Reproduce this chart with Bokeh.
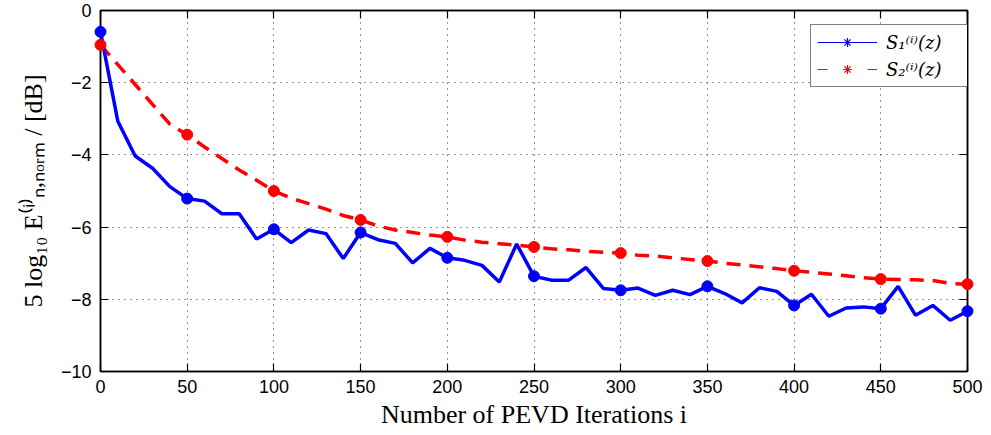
from bokeh.plotting import figure
from bokeh.models import (ColumnDataSource, Legend, LegendItem, LinearAxis,
                          FixedTicker, CustomJSTickFormatter, Range1d)
from bokeh.embed import file_html
from bokeh.resources import INLINE

# ---- data ----
iterations = list(range(0, 501, 10))
s1_db = [-0.59, -3.07, -4.03, -4.37, -4.88, -5.21, -5.28, -5.63, -5.63, -6.33,
         -6.06, -6.43, -6.08, -6.18, -6.87, -6.15, -6.35, -6.45, -6.99, -6.59,
         -6.85, -6.92, -7.06, -7.52, -6.47, -7.36, -7.47, -7.47, -7.12, -7.70,
         -7.75, -7.69, -7.89, -7.75, -7.87, -7.64, -7.84, -8.10, -7.68, -7.78,
         -8.17, -7.86, -8.47, -8.24, -8.21, -8.26, -7.64, -8.44, -8.17, -8.58,
         -8.33]
s2_db = [-0.95, -1.50, -2.05, -2.60, -3.15, -3.44, -3.78, -4.10, -4.42, -4.70,
         -5.00, -5.20, -5.35, -5.50, -5.68, -5.80, -5.97, -6.08, -6.15, -6.22,
         -6.27, -6.36, -6.42, -6.46, -6.50, -6.55, -6.60, -6.63, -6.67, -6.70,
         -6.72, -6.78, -6.80, -6.85, -6.90, -6.94, -7.00, -7.05, -7.10, -7.15,
         -7.21, -7.25, -7.30, -7.35, -7.40, -7.44, -7.45, -7.46, -7.48, -7.56,
         -7.58]
marker_step = 5  # markers every 50 iterations
x_ticks = list(range(0, 501, 50))
y_ticks = [0, -2, -4, -6, -8, -10]
label_s1 = "S\u2081\u207d\u2071\u207e(z)"
label_s2 = "S\u2082\u207d\u2071\u207e(z)"
x_label = "Number of PEVD Iterations i"
y_label = "5 log\u2081\u2080 E\u207d\u2071\u207e\u2099,\u2099\u2092\u1d63\u2098 / [dB]"

BLUE = "#0000ff"
RED = "#ff0000"

p = figure(width=985, height=435, x_range=Range1d(0, 500), y_range=Range1d(-10, 0),
           output_backend="svg", toolbar_location=None,
           min_border_left=100, min_border_right=18, min_border_top=10, min_border_bottom=64)
p.background_fill_color = "white"
p.border_fill_color = "white"
p.outline_line_color = "black"
p.outline_line_width = 1.5

minus_fmt = CustomJSTickFormatter(code="return (tick < 0 ? '\u2212' : '') + Math.abs(tick).toFixed(0);")
blank_fmt = CustomJSTickFormatter(code="return '';")

for ax, ticks in ((p.xaxis[0], x_ticks), (p.yaxis[0], y_ticks)):
    ax.ticker = FixedTicker(ticks=ticks)
    ax.formatter = minus_fmt
    ax.major_tick_in = 8
    ax.major_tick_out = 0
    ax.minor_tick_in = 0
    ax.minor_tick_out = 0
    ax.axis_line_width = 1.5
    ax.major_tick_line_width = 1.2
    ax.major_label_text_font = "Liberation Sans"
    ax.major_label_text_font_size = "18px"
    ax.major_label_text_color = "black"
    ax.axis_label_text_font = "Liberation Serif"
    ax.axis_label_text_font_size = "26px"
    ax.axis_label_text_font_style = "normal"
    ax.axis_label_text_color = "black"

p.xaxis[0].axis_label = x_label
p.yaxis[0].axis_label = y_label
p.xaxis[0].major_label_standoff = 8
p.xaxis[0].axis_label_standoff = 4
p.yaxis[0].major_label_standoff = 9
p.yaxis[0].axis_label_standoff = 10

for loc, ticks in (("above", x_ticks), ("right", y_ticks)):
    ax = LinearAxis(ticker=FixedTicker(ticks=ticks), formatter=blank_fmt,
                    major_tick_in=8, major_tick_out=0, minor_tick_in=0, minor_tick_out=0,
                    major_label_standoff=0, major_label_text_font_size="1px",
                    axis_line_width=1.5, major_tick_line_width=1.2)
    p.add_layout(ax, loc)

p.xgrid.ticker = FixedTicker(ticks=x_ticks)
p.ygrid.ticker = FixedTicker(ticks=y_ticks)
p.grid.grid_line_color = "black"
p.grid.grid_line_dash = "1 5"
p.grid.grid_line_width = 1
p.grid.grid_line_alpha = 0.85

src = ColumnDataSource(dict(x=iterations, s1=s1_db, s2=s2_db))
msrc = ColumnDataSource(dict(x=iterations[::marker_step], s1=s1_db[::marker_step],
                             s2=s2_db[::marker_step]))

p.line("x", "s2", source=src, color=RED, line_width=3.5, line_dash="14 9")
p.line("x", "s1", source=src, color=BLUE, line_width=3.5)
p.scatter("x", "s2", source=msrc, marker="circle", size=11, color=RED, level="overlay")
p.scatter("x", "s1", source=msrc, marker="circle", size=11, color=BLUE, level="overlay")

# legend-only renderers (thin lines with 8-point asterisk markers), placed off-range
off = ColumnDataSource(dict(x=[-200, -190], y=[-200, -200]))
l1 = p.line("x", "y", source=off, color=BLUE, line_width=1)
c1 = p.scatter("x", "y", source=off, marker="cross", size=14, line_color=BLUE, line_width=1.2)
x1 = p.scatter("x", "y", source=off, marker="x", size=11, line_color=BLUE, line_width=1.2)
l2 = p.line("x", "y", source=off, color=RED, line_width=1, line_dash="10 40")
c2 = p.scatter("x", "y", source=off, marker="cross", size=14, line_color=RED, line_width=1.2)
x2 = p.scatter("x", "y", source=off, marker="x", size=11, line_color=RED, line_width=1.2)

legend = Legend(items=[LegendItem(label=label_s1, renderers=[l1, c1, x1]),
                       LegendItem(label=label_s2, renderers=[l2, c2, x2])],
                location=(710, 284), orientation="vertical",
                glyph_width=60, glyph_height=22, label_height=22, label_width=75,
                label_standoff=9, padding=6, spacing=5, margin=0,
                label_text_font="DejaVu Serif", label_text_font_size="18px",
                label_text_font_style="italic", label_text_color="black",
                border_line_color="black", border_line_width=1.5,
                background_fill_color="white", background_fill_alpha=1.0)
p.add_layout(legend, "center")

open("out.html", "w").write(file_html(p, INLINE))
